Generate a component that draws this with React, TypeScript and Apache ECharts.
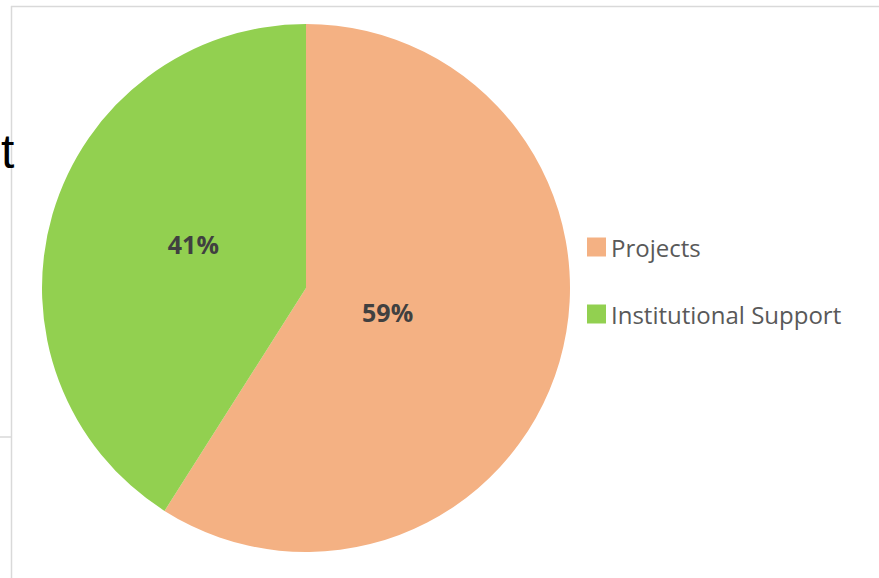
import React, { useEffect, useRef } from "react";
import * as echarts from "echarts";

const categories = ["Projects", "Institutional Support"];
const values = [59, 41];
const colors = ["#F4B183", "#92D050"];
const labelOffsets: [number, number][] = [[-48, -14], [17, -6]];

export default function App() {
  const ref = useRef<HTMLDivElement>(null);
  useEffect(() => {
    if (!ref.current) return;
    const chart = echarts.init(ref.current, undefined, { renderer: "svg" });
    chart.setOption({
      animation: false,
      backgroundColor: "#ffffff",
      legend: {
        orient: "vertical",
        left: 582,
        top: 230,
        itemWidth: 19,
        itemHeight: 19,
        itemGap: 43,
        icon: "rect",
        textStyle: { fontFamily: "Open Sans", fontSize: 24, color: "#595959" },
        data: categories,
      },
      graphic: [
        { type: "line", shape: { x1: 11.5, y1: 6, x2: 11.5, y2: 578 }, style: { stroke: "#d9d9d9", lineWidth: 1.5 }, z: 0 },
        { type: "line", shape: { x1: 11, y1: 6.5, x2: 879, y2: 6.5 }, style: { stroke: "#d9d9d9", lineWidth: 1.5 }, z: 0 },
        { type: "line", shape: { x1: 0, y1: 437, x2: 11, y2: 437 }, style: { stroke: "#d9d9d9", lineWidth: 1.5 }, z: 0 },
        { type: "text", left: 1, top: 127, style: { text: "t", fontFamily: "Liberation Sans", fontSize: 48, fill: "#000000" }, z: 5 },
      ],
      series: [
        {
          type: "pie",
          center: [306, 288],
          radius: 264,
          startAngle: 90,
          clockwise: true,
          silent: true,
          label: {
            show: true,
            position: "inside",
            formatter: "{d}%",
            fontFamily: "Open Sans",
            fontWeight: "bold",
            fontSize: 25,
            color: "#404040",
          },
          labelLine: { show: false },
          data: categories.map((name, i) => ({
            name,
            value: values[i],
            itemStyle: { color: colors[i] },
            label: { offset: labelOffsets[i] },
          })),
        },
      ],
    });
    return () => chart.dispose();
  }, []);
  return <div ref={ref} style={{ position: "fixed", left: 0, top: 0, width: 879, height: 578 }} />;
}
